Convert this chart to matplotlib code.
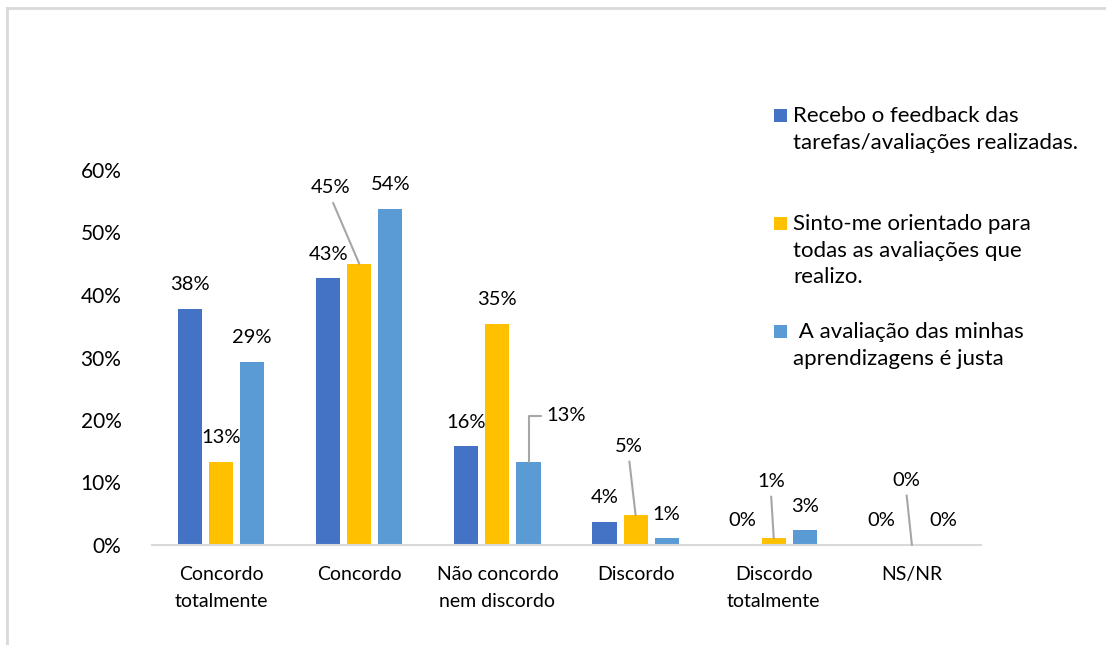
# Barras agrupadas: avaliação das aprendizagens

import matplotlib
matplotlib.use("Agg")
import matplotlib.pyplot as plt
import numpy as np
from matplotlib.lines import Line2D
from matplotlib.patches import Rectangle

plt.rcParams["font.family"] = ["Lato", "DejaVu Sans"]

categorias = [
    "Concordo\ntotalmente",
    "Concordo",
    "Não concordo\nnem discordo",
    "Discordo",
    "Discordo\ntotalmente",
    "NS/NR",
]
series = [
    "Recebo o feedback das\ntarefas/avaliações realizadas.",
    "Sinto-me orientado para\ntodas as avaliações que\nrealizo.",
    " A avaliação das minhas\naprendizagens é justa",
]
feedback = [0.378, 0.427, 0.158, 0.037, 0.0, 0.0]
orientado = [0.133, 0.450, 0.354, 0.048, 0.011, 0.0]
justa = [0.293, 0.538, 0.133, 0.011, 0.024, 0.0]
rotulos = [
    ["38%", "43%", "16%", "4%", "0%", "0%"],
    ["13%", "45%", "35%", "5%", "1%", "0%"],
    ["29%", "54%", "13%", "1%", "3%", "0%"],
]
cores = ["#4472C4", "#FFC000", "#5B9BD5"]
yticks = [0, 0.1, 0.2, 0.3, 0.4, 0.5, 0.6]

# labels with leader lines: (series, category) -> text offset in pixels
guias = {
    (1, 1): (-29, 76),
    (2, 2): (38, 46),
    (1, 3): (-7, 69),
    (1, 4): (-3, 57),
    (1, 5): (-6, 65),
}

W, H = 1106, 645
fig = plt.figure(figsize=(W / 100, H / 100), dpi=100)
ax = fig.add_axes([152 / W, 100 / H, 829 / W, 375 / H])

x = np.arange(len(categorias))
largura = 0.174
passo = 0.225
valores = [feedback, orientado, justa]

for s, vals in enumerate(valores):
    pos = x + (s - 1) * passo
    ax.bar(pos, vals, width=largura, color=cores[s], zorder=2)
    for c, (px, v) in enumerate(zip(pos, vals)):
        if (s, c) in guias:
            dx, dy = guias[(s, c)]
            if (s, c) == (2, 2):
                props = dict(arrowstyle="-", color="#A6A6A6", lw=1.5,
                             shrinkA=2, shrinkB=0, relpos=(0, 0.5),
                             connectionstyle="angle,angleA=0,angleB=90,rad=0")
            else:
                props = dict(arrowstyle="-", color="#A6A6A6", lw=1.5,
                             shrinkA=3, shrinkB=0, relpos=(0.5, 0))
            ax.annotate(rotulos[s][c], (px, v), xytext=(dx, dy),
                        textcoords="offset pixels", ha="center", va="center",
                        fontsize=14.5, arrowprops=props)
        else:
            ax.annotate(rotulos[s][c], (px, v), xytext=(0, 24),
                        textcoords="offset pixels", ha="center", va="center",
                        fontsize=14.5)

ax.set_xlim(-0.5, len(categorias) - 0.5)
ax.set_ylim(0, 0.6)
ax.set_yticks(yticks)
ax.set_yticklabels([f"{int(round(t * 100))}%" for t in yticks])
ax.set_xticks(x)
ax.set_xticklabels(categorias, linespacing=1.75)
ax.tick_params(axis="x", length=0, labelsize=14)
ax.tick_params(axis="y", length=0, labelsize=15, pad=22)
ax.tick_params(axis="x", pad=15)
for lado in ["top", "right", "left"]:
    ax.spines[lado].set_visible(False)
ax.spines["bottom"].set_color("#D9D9D9")
ax.spines["bottom"].set_linewidth(1.5)

# legend drawn by hand so the swatch sits on the first line
topos = [106, 214, 322]
for s in range(3):
    y0 = 1 - topos[s] / H
    fig.patches.append(Rectangle((774 / W, y0 - 16 / H), 13 / W, 13 / H,
                                 transform=fig.transFigure,
                                 facecolor=cores[s], edgecolor="none"))
    fig.text(793 / W, y0, series[s], fontsize=16, va="top", ha="left",
             linespacing=1.42)

# light frame around the chart area
fig.add_artist(Line2D([7 / W, 7 / W], [0, 1 - 8 / H], color="#D9D9D9", lw=2,
                      transform=fig.transFigure))
fig.add_artist(Line2D([7 / W, 1], [1 - 8 / H, 1 - 8 / H], color="#D9D9D9",
                      lw=2, transform=fig.transFigure))

fig.savefig("out.png", dpi=100)
